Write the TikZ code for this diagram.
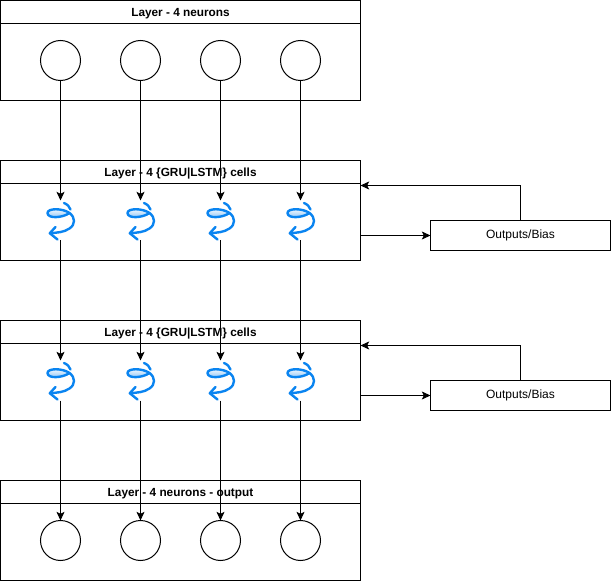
\documentclass[tikz,border=0pt]{standalone}
\usepackage{fontspec}
\setmainfont{Liberation Sans}
\usetikzlibrary{arrows.meta}
\definecolor{spiralblue}{HTML}{0A84F0}
\definecolor{spiralfill}{HTML}{7FBDF5}
\tikzset{
  x=0.75pt,y=-0.75pt,
  every node/.style={font=\fontsize{9pt}{11pt}\selectfont,inner sep=0pt,outer sep=0pt},
  panel/.style={draw=black,line width=0.75pt,minimum width=270pt,anchor=north west},
  head/.style={panel,minimum height=17.25pt,font=\fontsize{8.85pt}{11pt}\selectfont\bfseries,text height=6.5pt,text depth=-1.5pt},
  bodybox/.style={panel,minimum height=57.75pt},
  neuron/.style={draw=black,fill=white,circle,line width=0.75pt,minimum size=30pt},
  cell/.style={minimum width=21pt,minimum height=30pt},
  outbox/.style={draw=black,line width=0.75pt,minimum width=135pt,minimum height=22.5pt,anchor=north west},
  link/.style={draw=black,line width=0.75pt,-{Stealth[length=6.5pt,width=6pt,inset=1.5pt]}},
  spiral/.style={draw=spiralblue,line width=1.8pt,line cap=round,line join=round},
  pics/spiralicon/.style={code={
    \path[spiral,top color=white,bottom color=spiralfill] (-13,-7.5) .. controls (-13,-12.5) and (2,-12.5) .. (9,-7.5)
       .. controls (2,-2.5) and (-13,-1.5) .. (-13,-7.5) -- cycle;
    \path[spiral] (3.5,-17.5) .. controls (7,-16) and (9,-14) .. (10,-11);
    \path[spiral] (9,-7.5) .. controls (15,-3) and (15,4) .. (9,8)
       .. controls (3,12) and (-3,12) .. (-10.5,12.7);
    \path[spiral] (-5,6.5) -- (-10.7,12.7) -- (-3,19);
  }}
}
\begin{document}
\begin{tikzpicture}
\useasboundingbox (0,0) rectangle (611,581);
% panels
\node[head] (h1) at (0.5,0.5) {Layer - 4 neurons};
\node[bodybox] (b1) at (h1.south west) {};
\node[head] (h2) at (0.5,160.5) {Layer - 4 \{GRU|LSTM\} cells};
\node[bodybox] (b2) at (h2.south west) {};
\node[head] (h3) at (0.5,320.5) {Layer - 4 \{GRU|LSTM\} cells};
\node[bodybox] (b3) at (h3.south west) {};
\node[head] (h4) at (0.5,480.5) {Layer - 4 neurons - output};
\node[bodybox] (b4) at (h4.south west) {};
% neurons and cells by column
\foreach \i/\x in {1/60.5,2/140.5,3/220.5,4/300.5}{
  \node[neuron] (t\i) at (\x,60.5) {};
  \node[cell] (c\i) at (\x,220.5) {};
  \pic at (c\i) {spiralicon};
  \node[cell] (d\i) at (\x,380.5) {};
  \pic at (d\i) {spiralicon};
  \node[neuron] (o\i) at (\x,540.5) {};
  \draw[link] (t\i) -- (c\i);
  \draw[link] (c\i) -- (d\i);
  \draw[link] (d\i) -- (o\i);
}
% outputs
\node[outbox] (r1) at (430.5,220.5) {Outputs/Bias};
\node[outbox] (r2) at (430.5,380.5) {Outputs/Bias};
\coordinate (p1) at (360.5,235.5);
\coordinate (q1) at (360.5,185.5);
\coordinate (e1) at (520.5,185.5);
\coordinate (p2) at (360.5,395.5);
\coordinate (q2) at (360.5,345.5);
\coordinate (e2) at (520.5,345.5);
\draw[link] (p1) -- (r1.west);
\draw[link] (r1.north -| e1) -- (e1) -- (q1);
\draw[link] (p2) -- (r2.west);
\draw[link] (r2.north -| e2) -- (e2) -- (q2);
\end{tikzpicture}
\end{document}
